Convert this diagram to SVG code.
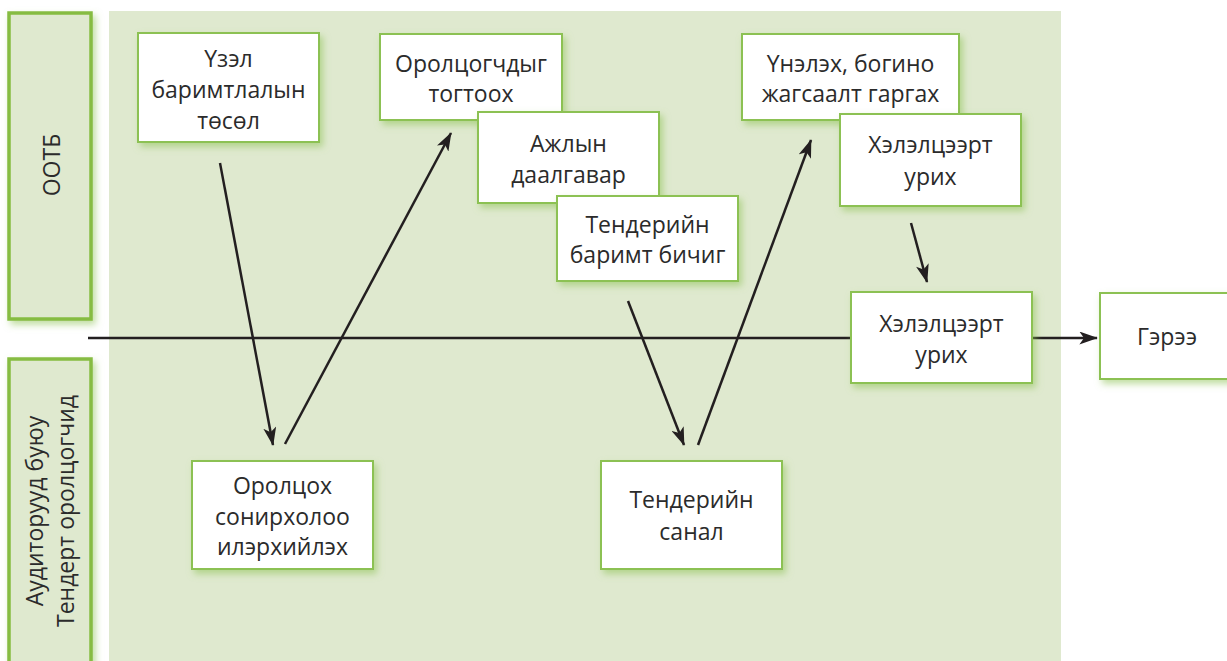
<svg xmlns="http://www.w3.org/2000/svg" width="1227" height="661" viewBox="0 0 1227 661">
<style>
.bg{fill:#dfe9cf}
.lane{fill:#dfe9cf;stroke:#86bc42;stroke-width:3.5;filter:url(#sh)}
.box{fill:#ffffff;stroke:#8cc152;stroke-width:2;filter:url(#sh)}
.t{font-family:"Open Sans","Noto Sans","DejaVu Sans",sans-serif;font-size:23px;fill:#2b2b2b;text-anchor:middle}
.c{fill:none;stroke:#231f20;stroke-width:2.5}
</style>
<defs>
<filter id="sh" x="-20%" y="-20%" width="140%" height="140%">
<feDropShadow dx="3" dy="4" stdDeviation="3.5" flood-color="#8cc152" flood-opacity="0.55"/>
</filter>
<marker id="ah" viewBox="0 0 20 14" markerUnits="userSpaceOnUse" markerWidth="19" markerHeight="13" refX="19" refY="7" orient="auto">
<path d="M0,0 L20,7 L0,14 L5,7 z" fill="#231f20"/>
</marker>
</defs>
<rect class="bg" x="109" y="11" width="952" height="650"/>
<g id="lane-ootb">
<rect class="lane" x="9" y="13" width="82" height="306"/>
<text class="t" transform="translate(60,165) rotate(-90)">ООТБ</text>
</g>
<g id="lane-auditors">
<rect class="lane" x="9" y="359" width="82" height="310"/>
<text class="t" transform="translate(43,511) rotate(-90)"><tspan x="0" y="0">Аудиторууд буюу</tspan><tspan x="0" y="31">Тендерт оролцогчид</tspan></text>
</g>
<g id="connectors">
<path class="c" d="M88,338 H851"/>
<path class="c" d="M1032,338 H1097" marker-end="url(#ah)"/>
<path class="c" d="M220,163 L273,445" marker-end="url(#ah)"/>
<path class="c" d="M285,444 L451,133" marker-end="url(#ah)"/>
<path class="c" d="M628,301 L684,445" marker-end="url(#ah)"/>
<path class="c" d="M698,445 L811,140" marker-end="url(#ah)"/>
<path class="c" d="M911,223 L927,282" marker-end="url(#ah)"/>
</g>
<g id="n1">
<rect class="box" x="138" y="33" width="181" height="109"/>
<text class="t" x="228.5" y="67">Үзэл</text>
<text class="t" x="228.5" y="98">баримтлалын</text>
<text class="t" x="228.5" y="129">төсөл</text>
</g>
<g id="n2">
<rect class="box" x="380" y="34" width="182" height="86"/>
<text class="t" x="471" y="72">Оролцогчдыг</text>
<text class="t" x="471" y="102">тогтоох</text>
</g>
<g id="n3">
<rect class="box" x="478" y="112" width="181" height="91"/>
<text class="t" x="568.5" y="152">Ажлын</text>
<text class="t" x="568.5" y="183">даалгавар</text>
</g>
<g id="n4">
<rect class="box" x="557" y="196" width="181" height="85"/>
<text class="t" x="647.5" y="233">Тендерийн</text>
<text class="t" x="647.5" y="263">баримт бичиг</text>
</g>
<g id="n5">
<rect class="box" x="742" y="34" width="217" height="86"/>
<text class="t" x="850.5" y="72">Үнэлэх, богино</text>
<text class="t" x="850.5" y="102">жагсаалт гаргах</text>
</g>
<g id="n6">
<rect class="box" x="840" y="114" width="181" height="92"/>
<text class="t" x="930.5" y="153">Хэлэлцээрт</text>
<text class="t" x="930.5" y="185">урих</text>
</g>
<g id="n7">
<rect class="box" x="851" y="292" width="181" height="91"/>
<text class="t" x="941.5" y="332">Хэлэлцээрт</text>
<text class="t" x="941.5" y="363">урих</text>
</g>
<g id="n8">
<rect class="box" x="1100" y="293" width="140" height="86"/>
<text class="t" x="1167" y="345">Гэрээ</text>
</g>
<g id="n9">
<rect class="box" x="192" y="461" width="181" height="108"/>
<text class="t" x="282.5" y="494">Оролцох</text>
<text class="t" x="282.5" y="525">сонирхолоо</text>
<text class="t" x="282.5" y="555">илэрхийлэх</text>
</g>
<g id="n10">
<rect class="box" x="601" y="461" width="181" height="108"/>
<text class="t" x="691.5" y="508">Тендерийн</text>
<text class="t" x="691.5" y="540">санал</text>
</g>
</svg>
